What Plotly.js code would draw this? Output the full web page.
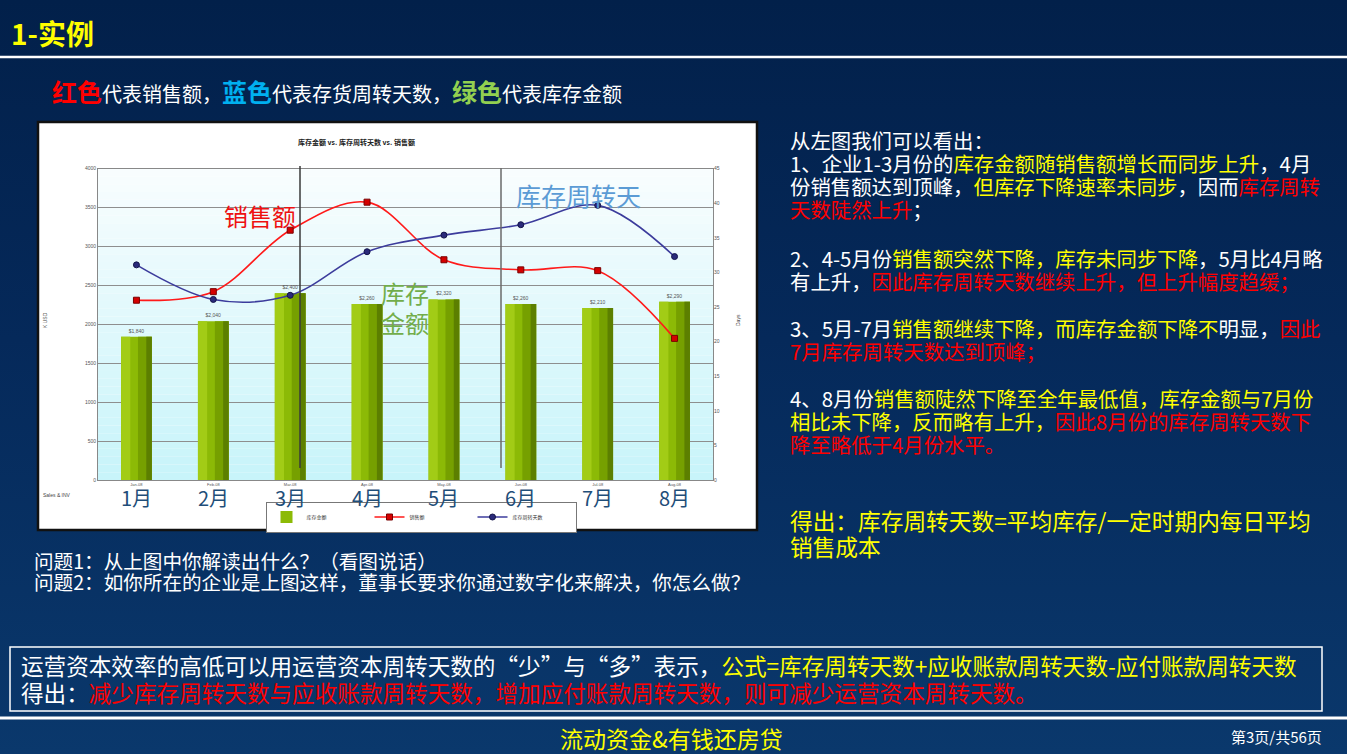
<!DOCTYPE html>
<html>
<head>
<meta charset="utf-8">
<script src="https://cdn.plot.ly/plotly-3.0.1.min.js"></script>
<style>
html,body{margin:0;padding:0;}
body{width:1347px;height:754px;overflow:hidden;background:linear-gradient(180deg,#02204a 0%,#05295a 45%,#0a386c 100%);}
#chart{width:1347px;height:754px;}
</style>
</head>
<body>
<div id="chart"></div>
<script>
// ---- data ----
const categories = ['Jan-08','Feb-08','Mar-08','Apr-08','May-08','Jun-08','Jul-08','Aug-08'];
const monthLabels = ['1月','2月','3月','4月','5月','6月','7月','8月'];
const inventory = [1840, 2040, 2400, 2260, 2320, 2260, 2210, 2290];   // 库存金额 (K USD, left axis)
const sales = [2310, 2420, 3210, 3570, 2830, 2700, 2690, 1820];       // 销售额 (K USD, left axis)
const days = [31.1, 26.1, 26.7, 33.0, 35.4, 36.9, 39.7, 32.3];         // 库存周转天数 (Days, right axis)
const seriesNames = ['库存金额','销售额','库存周转天数'];
const chartTitle = '库存金额 vs. 库存周转天数 vs. 销售额';

// ---- helpers ----
const W = 1347, H = 754;
const px = x => x / W;
const py = y => 1 - y / H;
const WHITE = '#ffffff', YEL = '#ffff00', RED = '#ff0000';
const CJK = '"Noto Sans CJK SC", "Noto Sans", sans-serif';

function seg(parts){
  return parts.map(p => '<span style="color:' + p[1] + '">' + p[0] + '</span>').join('');
}
function textLine(x, y, parts, size, extra){
  return Object.assign({
    xref:'paper', yref:'paper', x:px(x), y:py(y), xanchor:'left', yanchor:'middle',
    showarrow:false, text:seg(parts), font:{family:CJK, size:size, color:WHITE}, borderpad:0
  }, extra || {});
}
function centerText(x, y, text, font, extra){
  return Object.assign({xref:'paper', yref:'paper', x:px(x), y:py(y), xanchor:'center', yanchor:'middle',
    showarrow:false, text:text, font:font, borderpad:0}, extra || {});
}

const plotL = 98, plotR = 713, plotT = 168.7, plotB = 480;

// ---- traces ----
const barW = 0.40;
const traces = [
  {type:'bar', x:categories, y:inventory, name:seriesNames[0], marker:{color:'#8cba06'},
   width:barW, offset:-barW/2, yaxis:'y', showlegend:true,
   texttemplate:'$%{y:,.0f}', textposition:'outside', cliponaxis:false,
   textfont:{size:5, color:'#555', family:'Liberation Sans'}, hoverinfo:'skip'},
  {type:'bar', x:categories, y:inventory, marker:{color:'#a2cc16'},
   width:barW*0.3, offset:-barW/2, showlegend:false, hoverinfo:'skip'},
  {type:'bar', x:categories, y:inventory, marker:{color:'#76a000'},
   width:barW*0.45, offset:barW*0.05, showlegend:false, hoverinfo:'skip'},
  {type:'bar', x:categories, y:inventory, marker:{color:'#5c7f00'},
   width:barW*0.18, offset:barW*0.32, showlegend:false, hoverinfo:'skip'},
  {type:'scatter', mode:'lines+markers', x:categories, y:sales, name:seriesNames[1], yaxis:'y',
   line:{color:'#ff1a1a', width:1.6, shape:'spline', smoothing:1},
   marker:{symbol:'square', size:6, color:'#d40000', line:{color:'#7a0000', width:1}}},
  {type:'scatter', mode:'lines+markers', x:categories, y:days, name:seriesNames[2], yaxis:'y2',
   line:{color:'#3c3c9c', width:1.6, shape:'spline', smoothing:1},
   marker:{symbol:'circle', size:6, color:'#2a2a7a', line:{color:'#14144a', width:1}}}
];

// ---- shapes ----
const shapes = [];
// chart frame
shapes.push({type:'rect', xref:'paper', yref:'paper', x0:px(38), x1:px(757), y0:py(530), y1:py(122),
  fillcolor:'#ffffff', line:{color:'#111', width:2.5}, layer:'below'});
// plot-area gradient (white at top, light cyan at bottom)
const strips = 40;
for (let i = 0; i < strips; i++){
  const t = i / (strips - 1);
  const r = Math.round(248 + (200 - 248) * t);
  const g = Math.round(253 + (244 - 253) * t);
  const b = Math.round(254 + (250 - 254) * t);
  const y0 = plotT + (plotB - plotT) * i / strips;
  const y1 = plotT + (plotB - plotT) * (i + 1) / strips;
  shapes.push({type:'rect', xref:'paper', yref:'paper', x0:px(plotL), x1:px(plotR), y0:py(y1), y1:py(y0),
    fillcolor:'rgb(' + r + ',' + g + ',' + b + ')', line:{width:0}, layer:'below'});
}
// vertical separator lines drawn on the slide
shapes.push({type:'line', xref:'paper', yref:'paper', x0:px(300), x1:px(300), y0:py(468), y1:py(166),
  line:{color:'#3a3a3a', width:1.5}, layer:'above'});
shapes.push({type:'line', xref:'paper', yref:'paper', x0:px(501), x1:px(501), y0:py(468), y1:py(168),
  line:{color:'#6a6a6a', width:1.5}, layer:'above'});
// slide lines
shapes.push({type:'line', xref:'paper', yref:'paper', x0:0, x1:1, y0:py(57), y1:py(57),
  line:{color:'#ffffff', width:2.5}});
shapes.push({type:'line', xref:'paper', yref:'paper', x0:0, x1:1, y0:py(718), y1:py(718),
  line:{color:'#ffffff', width:3}});
shapes.push({type:'rect', xref:'paper', yref:'paper', x0:px(10), x1:px(1322), y0:py(711), y1:py(647),
  line:{color:'#ffffff', width:1.5}, fillcolor:'rgba(0,0,0,0)'});

// ---- annotations ----
const ann = [];
// chart title and small labels
ann.push(centerText(356, 142, '<b>' + chartTitle + '</b>', {family:CJK, size:7, color:'#222'}));
ann.push(centerText(45, 320, 'K USD', {family:'Liberation Sans', size:5, color:'#444'}, {textangle:-90}));
ann.push(centerText(738, 320, 'Days', {family:'Liberation Sans', size:5, color:'#444'}, {textangle:-90}));
ann.push(centerText(57, 495, 'Sales &amp; INV', {family:'Liberation Sans', size:5, color:'#444'}));
// big month labels under the categories
categories.forEach((c, i) => {
  ann.push({xref:'x', yref:'paper', x:c, y:py(498), xanchor:'center', yanchor:'middle', text:monthLabels[i],
    showarrow:false, font:{family:CJK, size:20, color:'#1f4e79'}});
});
// big series labels inside the chart
ann.push(centerText(260, 215, seriesNames[1], {family:CJK, size:24, color:'#ee1111'}));
ann.push(centerText(578, 195, '库存周转天', {family:CJK, size:25, color:'#5b9bd5'}));
ann.push(centerText(405, 292, '库存', {family:CJK, size:24, color:'#72ad4a'}));
ann.push(centerText(405, 322, '金额', {family:CJK, size:24, color:'#72ad4a'}));

// slide header
ann.push(textLine(10, 33, [['<b>1-实例</b>', YEL]], 28));
ann.push(textLine(51, 91, [['<b><span style="font-size:25px">红色</span></b>', RED], ['代表销售额，', WHITE],
  ['<b><span style="font-size:25px">蓝色</span></b>', '#00b0f0'], ['代表存货周转天数，', WHITE],
  ['<b><span style="font-size:25px">绿色</span></b>', '#92d050'], ['代表库存金额', WHITE]], 20));

// right text block
const rx = 789;
const rightLines = [
  [140, [['从左图我们可以看出：', WHITE]]],
  [163, [['1、企业1-3月份的', WHITE], ['库存金额随销售额增长而同步上升', YEL], ['，4月', WHITE]]],
  [186, [['份销售额达到顶峰，', WHITE], ['但库存下降速率未同步', YEL], ['，因而', WHITE], ['库存周转', RED]]],
  [209, [['天数陡然上升', RED], ['；', WHITE]]],
  [258, [['2、4-5月份', WHITE], ['销售额突然下降，库存未同步下降', YEL], ['，5月比4月略', WHITE]]],
  [281, [['有上升，', WHITE], ['因此库存周转天数继续上升，但上升幅度趋缓；', RED]]],
  [328, [['3、5月-7月', WHITE], ['销售额继续下降，而库存金额下降不', YEL], ['明显，', WHITE], ['因此', RED]]],
  [351, [['7月库存周转天数达到顶峰；', RED]]],
  [398, [['4、8月份', WHITE], ['销售额陡然下降至全年最低值，库存金额与7月份', YEL]]],
  [421, [['相比未下降，反而略有上升，', YEL], ['因此8月份的库存周转天数下', RED]]],
  [444, [['降至略低于4月份水平。', RED]]]
];
rightLines.forEach(l => ann.push(textLine(rx, l[0], l[1], 20.4)));
ann.push(textLine(rx, 520, [['得出：库存周转天数=平均库存/一定时期内每日平均', YEL]], 22.7));
ann.push(textLine(rx, 546, [['销售成本', YEL]], 22.7));

// questions
ann.push(textLine(33, 560, [['问题1：从上图中你解读出什么？（看图说话）', WHITE]], 19.6));
ann.push(textLine(33, 581, [['问题2：如你所在的企业是上图这样，董事长要求你通过数字化来解决，你怎么做？', WHITE]], 19.6));

// bottom box
ann.push(textLine(20, 665, [['运营资本效率的高低可以用运营资本周转天数的“少”与“多”表示，', WHITE],
  ['公式=库存周转天数+应收账款周转天数-应付账款周转天数', YEL]], 22.6));
ann.push(textLine(20, 692, [['得出：', WHITE], ['减少库存周转天数与应收账款周转天数，增加应付账款周转天数，则可减少运营资本周转天数。', RED]], 22.6));

// footer
ann.push(centerText(671, 738, '流动资金&amp;有钱还房贷', {family:CJK, size:23, color:YEL}));
ann.push(centerText(1276, 736, '第3页/共56页', {family:CJK, size:15, color:WHITE}));

const layout = {
  width:W, height:H, margin:{l:0, r:0, t:0, b:0},
  paper_bgcolor:'rgba(0,0,0,0)', plot_bgcolor:'rgba(0,0,0,0)',
  barmode:'overlay', showlegend:true,
  font:{family:'Liberation Sans'},
  xaxis:{domain:[px(plotL), px(plotR)], type:'category', range:[-0.5, 7.5],
    tickfont:{size:4, color:'#555'}, showline:true, linecolor:'#888', mirror:true,
    showgrid:false, ticks:'', fixedrange:true},
  yaxis:{domain:[py(plotB), py(plotT)], range:[0, 4000], dtick:500,
    tickfont:{size:5, color:'#555'}, showgrid:true, gridcolor:'#8e8e8e', gridwidth:1,
    showline:true, linecolor:'#888', mirror:true, zeroline:false, ticks:''},
  yaxis2:{overlaying:'y', side:'right', range:[0, 45], dtick:5, showgrid:false,
    tickfont:{size:5, color:'#555'}, zeroline:false, ticks:''},
  legend:{orientation:'h', x:px(421), xanchor:'center', y:py(517), yanchor:'middle',
    bgcolor:'#ffffff', bordercolor:'#777', borderwidth:1, font:{size:5, family:CJK, color:'#333'},
    entrywidth:58, itemwidth:30, tracegroupgap:0},
  shapes:shapes, annotations:ann
};

Plotly.newPlot('chart', traces, layout, {displayModeBar:false, staticPlot:true});
</script>
</body>
</html>
